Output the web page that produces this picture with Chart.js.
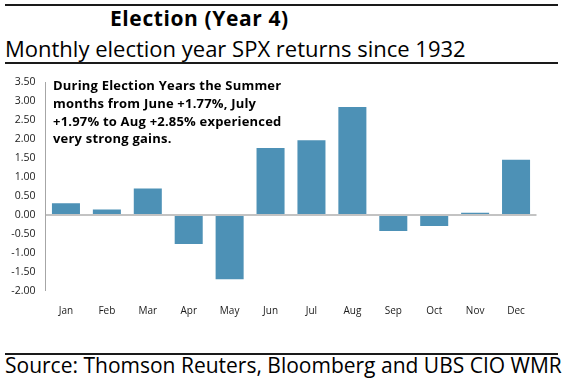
<!DOCTYPE html>
<html>
<head>
<meta charset="utf-8">
<script src="https://cdn.jsdelivr.net/npm/chart.js@4"></script>
<style>
  html, body { margin: 0; padding: 0; background: #fff; }
  body { width: 566px; height: 382px; position: relative; overflow: hidden; font-family: 'Open Sans', sans-serif; color: #000; }
  .rule { position: absolute; left: 5px; width: 553px; height: 2px; background: #1a1a1a; }
  .txt { position: absolute; white-space: nowrap; line-height: 1; }
  #title { left: 110px; top: 8px; font-size: 21px; font-weight: 700; letter-spacing: 0.6px; }
  #subtitle { left: 5px; top: 37px; font-size: 22px; }
  #source { left: 5px; top: 355px; font-size: 21px; }
  #note { position: absolute; left: 53px; top: 77px; font-size: 13px; font-weight: 700; letter-spacing: 0.2px; line-height: 17.8px; white-space: nowrap; }
  #wrap { position: absolute; left: 0; top: 66px; width: 566px; height: 284px; }
</style>
</head>
<body>
<div class="rule" style="top:4px"></div>
<div class="txt" id="title">Election (Year 4)</div>
<div class="txt" id="subtitle">Monthly election year SPX returns since 1932</div>
<div class="rule" style="top:62px"></div>
<div id="wrap"><canvas id="c" width="566" height="284"></canvas></div>
<div id="note">During Election Years the Summer<br>months from June +1.77%, July<br>+1.97% to Aug +2.85% experienced<br>very strong gains.</div>
<div class="rule" style="top:353px"></div>
<div class="txt" id="source">Source: Thomson Reuters, Bloomberg and UBS CIO WMR</div>
<script>
const months = ['Jan','Feb','Mar','Apr','May','Jun','Jul','Aug','Sep','Oct','Nov','Dec'];
const returns = [0.31, 0.15, 0.70, -0.76, -1.69, 1.77, 1.97, 2.85, -0.42, -0.29, 0.06, 1.46];
const yMin = -2.0;
const yMax = 3.5;
const yStep = 0.5;

new Chart(document.getElementById('c'), {
  type: 'bar',
  data: {
    labels: months,
    datasets: [{
      data: returns,
      backgroundColor: '#4d91b6',
      borderWidth: 0,
      barPercentage: 0.685,
      categoryPercentage: 1.0
    }]
  },
  options: {
    responsive: false,
    animation: false,
    events: [],
    layout: { padding: { left: 0, right: 29.5, top: 8, bottom: 0 } },
    plugins: { legend: { display: false }, tooltip: { enabled: false }, title: { display: false } },
    scales: {
      x: {
        grid: { display: false, drawTicks: false },
        border: { display: false },
        ticks: { color: '#1a1a1a', font: { family: 'Open Sans', size: 10 }, padding: 14, maxRotation: 0, autoSkip: false },
        afterFit: s => { s.height = 59; }
      },
      y: {
        min: yMin, max: yMax,
        z: 1,
        grid: {
          drawTicks: false,
          color: c => (c.tick && c.tick.value === 0) ? '#c3c3c3' : 'rgba(0,0,0,0)',
          lineWidth: c => (c.tick && c.tick.value === 0) ? 2 : 0
        },
        border: { display: true, color: '#a6a6a6', width: 1 },
        ticks: {
          stepSize: yStep,
          color: '#1a1a1a',
          font: { family: 'Open Sans', size: 10.5 },
          padding: 10,
          callback: v => Number(v).toFixed(2)
        },
        afterFit: s => { s.width = 45.5; }
      }
    }
  }
});
</script>
</body>
</html>
